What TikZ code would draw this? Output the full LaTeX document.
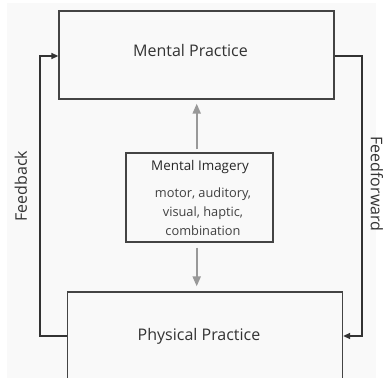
\documentclass[tikz,border=0pt]{standalone}
\usepackage{fontspec}
\setmainfont{Open Sans}
\usetikzlibrary{arrows.meta}
\definecolor{canvas}{HTML}{F9F9F9}
\definecolor{edge}{HTML}{444444}
\definecolor{link}{HTML}{333333}
\definecolor{soft}{HTML}{999999}
\tikzset{
  practice/.style={draw=edge, line width=1.3pt, fill=canvas, minimum width=275pt, minimum height=88pt, inner sep=0pt, font=\fontsize{16}{18}\selectfont, text=black!80},
  imagery/.style={draw=edge, line width=1.2pt, minimum width=147pt, minimum height=89pt, inner sep=0pt},
  loop/.style={draw=link, line width=1.3pt, -{Triangle[length=7pt,width=6pt]}},
  feed/.style={draw=soft, line width=2pt, -{Triangle[length=10pt,width=8pt]}},
  side/.style={font=\fontsize{16}{18}\selectfont, text=black!80}
}
\begin{document}
\begin{tikzpicture}[x=1pt,y=-1pt]
  \useasboundingbox (0,0) rectangle (384,378);
  \fill[white] (0,0) rectangle (384,378);
  \clip (0,0) rectangle (384,378);
  \fill[canvas] (7,3) rectangle (376,378);

  % the two practice blocks (titles sit a little left of centre)
  \node[practice, text depth=9pt] (mental) at (196.5,55) {Mental Practice\hspace*{12pt}};
  \node[practice, text depth=4pt] (physical) at (205,336) {Physical Practice\hspace*{12pt}};

  % central imagery block
  \node[imagery] (imagery) at (199.5,197.5) {};
  \node[font=\fontsize{13.4}{15}\selectfont, text=black!85] (imgtitle) at (200,167) {Mental Imagery};
  \node[font=\fontsize{12.8}{19}\selectfont, text=black!75, align=center] (imgtypes) at (203,212) {motor, auditory,\\visual, haptic,\\combination};

  % imagery feeds both practices
  \draw[feed] ([yshift=3pt]imagery.north -| 196.7,0) -- ([yshift=-4pt]mental.south -| 196.7,0);
  \draw[feed] ([yshift=-5pt]imagery.south -| 196.7,0) -- ([yshift=5pt]physical.north -| 196.7,0);

  % feedback and feedforward loops
  \coordinate (fbtop) at (40,56);
  \coordinate (fbbot) at (40,336);
  \coordinate (fftop) at (362,56);
  \coordinate (ffbot) at (362,336);
  \draw[loop] (physical.west |- fbbot) -- (fbbot) -- (fbtop) -- (mental.west |- fbtop);
  \draw[loop] (mental.east |- fftop) -- (fftop) -- (ffbot) -- (physical.east |- ffbot);

  \node[side, rotate=90] (fblabel) at (21,186) {Feedback};
  \node[side, rotate=-90] (fflabel) at (377,184) {Feedforward};
\end{tikzpicture}
\end{document}
